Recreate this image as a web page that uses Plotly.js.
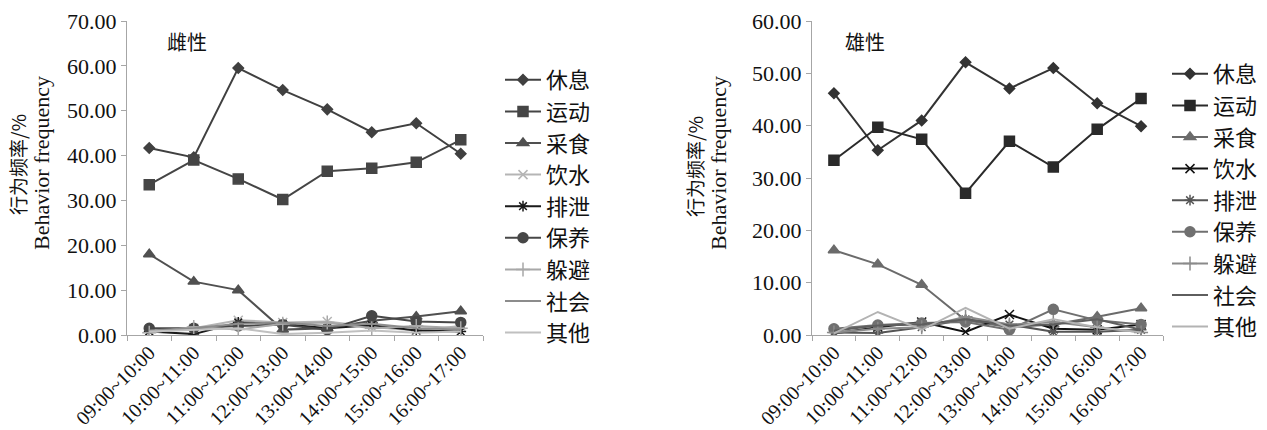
<!DOCTYPE html>
<html>
<head>
<meta charset="utf-8">
<script src="https://cdn.plot.ly/plotly-3.0.1.min.js"></script>
<style>html,body{margin:0;padding:0;background:#fff;}#chart{width:1267px;height:430px;}</style>
</head>
<body>
<div id="chart"></div>
<script>
// ---- data ----
const timeSlots = ["09:00~10:00","10:00~11:00","11:00~12:00","12:00~13:00","13:00~14:00","14:00~15:00","15:00~16:00","16:00~17:00"];
const behaviors = ["休息","运动","采食","饮水","排泄","保养","躲避","社会","其他"];

// 雌性 (female)
const femaleRest    = [41.7, 39.6, 59.5, 54.6, 50.3, 45.2, 47.2, 40.4];
const femaleMove    = [33.5, 39.0, 34.8, 30.2, 36.5, 37.2, 38.5, 43.5];
const femaleFeed    = [18.0, 11.9, 10.0, 1.2, 1.5, 3.2, 4.1, 5.3];
const femaleDrink   = [0.8, 1.5, 3.3, 2.8, 3.0, 1.8, 1.0, 2.0];
const femaleExcrete = [0.8, 0.2, 2.8, 2.5, 1.5, 2.2, 1.0, 0.8];
const femaleGroom   = [1.5, 1.5, 2.0, 2.3, 1.2, 4.3, 3.0, 2.8];
const femaleHide    = [0.5, 1.8, 1.2, 2.5, 2.8, 1.5, 2.0, 1.5];
const femaleSocial  = [1.0, 1.5, 2.5, 2.8, 2.0, 2.5, 1.5, 1.2];
const femaleOther   = [0.8, 1.2, 1.5, 0.2, 0.5, 1.0, 0.5, 0.8];

// 雄性 (male)
const maleRest    = [46.2, 35.3, 41.0, 52.1, 47.1, 51.0, 44.3, 39.9];
const maleMove    = [33.4, 39.7, 37.4, 27.1, 37.0, 32.1, 39.3, 45.2];
const maleFeed    = [16.2, 13.5, 9.6, 2.8, 1.5, 2.0, 3.5, 5.1];
const maleDrink   = [0.3, 1.5, 2.5, 0.6, 3.9, 1.2, 1.0, 2.0];
const maleExcrete = [0.5, 0.4, 1.5, 3.0, 2.0, 0.6, 0.6, 1.0];
const maleGroom   = [1.2, 1.9, 2.3, 2.5, 1.0, 4.9, 2.8, 2.0];
const maleHide    = [0.5, 1.2, 1.5, 3.5, 2.0, 2.5, 1.5, 0.5];
const maleSocial  = [0.8, 1.8, 2.0, 3.0, 1.8, 2.0, 3.0, 1.0];
const maleOther   = [0.3, 4.4, 1.0, 5.2, 1.2, 3.0, 1.5, 0.5];

const femaleSeries = [femaleRest, femaleMove, femaleFeed, femaleDrink, femaleExcrete, femaleGroom, femaleHide, femaleSocial, femaleOther];
const maleSeries = [maleRest, maleMove, maleFeed, maleDrink, maleExcrete, maleGroom, maleHide, maleSocial, maleOther];

// ---- styles ----
const symbols = ["diamond","square","triangle-up","x-thin-open","asterisk-open","circle","cross-thin-open",null,null];
const sizes = [8, 10, 10, 9, 9, 10, 10, 0, 0];
const femaleColors = ["#404040","#454545","#505050","#b5b5b5","#1a1a1a","#474747","#a8a8a8","#8c8c8c","#c0c0c0"];
const maleColors   = ["#333333","#2a2a2a","#6b6b6b","#111111","#555555","#707070","#8a8a8a","#5e5e5e","#b3b3b3"];

const LATIN = "Liberation Serif";
const CJK = "Noto Sans CJK SC";
const traces = [];
function addSeries(series, colors, xa, ya, leg) {
  series.forEach((vals, i) => {
    const t = {
      type: "scatter",
      x: timeSlots, y: vals, name: behaviors[i],
      xaxis: xa, yaxis: ya, legend: leg,
      mode: symbols[i] ? "lines+markers" : "lines",
      line: {color: colors[i], width: 2}
    };
    if (symbols[i]) {
      t.marker = {symbol: symbols[i], size: sizes[i], color: colors[i], line: {color: colors[i], width: 1.5}};
    }
    traces.push(t);
  });
}
addSeries(femaleSeries, femaleColors, "x", "y", "legend");
addSeries(maleSeries, maleColors, "x2", "y2", "legend2");

const W = 1267, H = 430;
const px = v => v / W, py = v => (H - v) / H;

const axisCommon = {
  showgrid: false, zeroline: false, showline: true, linecolor: "#a6a6a6", linewidth: 1.2,
  ticks: "outside", ticklen: 5, tickcolor: "#a6a6a6",
  tickfont: {family: LATIN, size: 22, color: "#111"}
};
const xCommon = Object.assign({}, axisCommon, {type: "category", tickangle: -45, tickson: "boundaries", range: [-0.5, 7.5], fixedrange: true,
  ticklabelstandoff: -3, tickfont: {family: LATIN, size: 20, color: "#111"}});

const legendCommon = {xanchor: "left", yanchor: "top", bgcolor: "rgba(0,0,0,0)", itemwidth: 36, font: {family: CJK, size: 22, color: "#111"}};

const layout = {
  width: W, height: H,
  margin: {l: 0, r: 0, t: 0, b: 0},
  paper_bgcolor: "#fff", plot_bgcolor: "#fff",
  font: {family: LATIN, size: 22, color: "#111"},
  xaxis: Object.assign({}, xCommon, {domain: [px(127), px(483)], anchor: "y"}),
  yaxis: Object.assign({}, axisCommon, {domain: [py(335), py(21)], range: [0, 70], dtick: 10, tickformat: ".2f", anchor: "x"}),
  xaxis2: Object.assign({}, xCommon, {domain: [px(812), px(1163)], anchor: "y2"}),
  yaxis2: Object.assign({}, axisCommon, {domain: [py(335), py(21)], range: [0, 60], dtick: 10, tickformat: ".2f", anchor: "x2"}),
  showlegend: true,
  legend: Object.assign({}, legendCommon, {x: px(500), y: py(59)}),
  legend2: Object.assign({}, legendCommon, {x: px(1167), y: py(53)}),
  annotations: [
    {text: "雌性", xref: "paper", yref: "paper", x: px(187), y: py(41), showarrow: false, xanchor: "center", yanchor: "middle", font: {family: CJK, size: 20, color: "#111"}},
    {text: "雄性", xref: "paper", yref: "paper", x: px(865), y: py(41), showarrow: false, xanchor: "center", yanchor: "middle", font: {family: CJK, size: 20, color: "#111"}},
    {text: "行为频率/%", xref: "paper", yref: "paper", x: px(17), y: py(165), showarrow: false, textangle: -90, xanchor: "center", yanchor: "middle", font: {family: CJK, size: 19, color: "#111"}},
    {text: "Behavior frequency", xref: "paper", yref: "paper", x: px(41), y: py(163), showarrow: false, textangle: -90, xanchor: "center", yanchor: "middle", font: {family: LATIN, size: 22, color: "#111"}},
    {text: "行为频率/%", xref: "paper", yref: "paper", x: px(694), y: py(167), showarrow: false, textangle: -90, xanchor: "center", yanchor: "middle", font: {family: CJK, size: 19, color: "#111"}},
    {text: "Behavior frequency", xref: "paper", yref: "paper", x: px(718), y: py(163), showarrow: false, textangle: -90, xanchor: "center", yanchor: "middle", font: {family: LATIN, size: 22, color: "#111"}}
  ]
};

Plotly.newPlot("chart", traces, layout, {displayModeBar: false, staticPlot: true});
</script>
</body>
</html>
